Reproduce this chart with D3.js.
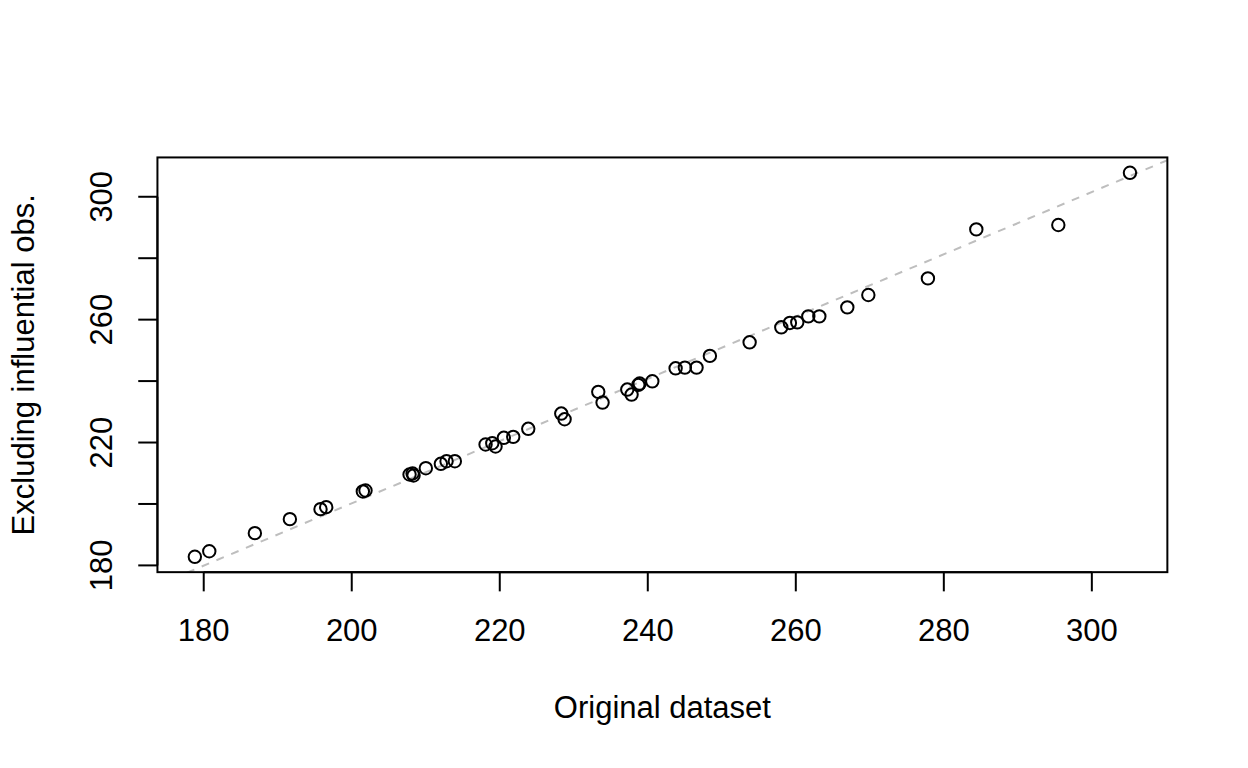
<!DOCTYPE html>
<html>
<head>
<meta charset="utf-8">
<script src="https://cdn.jsdelivr.net/npm/d3@7"></script>
<style>
  html, body { margin: 0; padding: 0; background: #ffffff; }
  svg { display: block; }
  text { font-family: "Liberation Sans", Arial, sans-serif; fill: #000; }
</style>
</head>
<body>
<svg id="chart" width="1248" height="768"></svg>
<script>
// Original dataset fitted values (x)
const original = [
  178.8, 180.75, 186.91, 191.64, 195.78, 196.55, 201.5, 201.86, 207.81, 208.22,
  208.35, 210.01, 212.04, 212.81, 213.93, 218.08, 218.99, 219.43, 220.55, 221.82,
  223.85, 228.31, 228.76, 233.31, 233.89, 237.23, 237.81, 238.72, 238.9, 240.61,
  243.76, 245.01, 246.59, 248.39, 253.76, 258.04, 259.2, 260.2, 261.69, 263.18,
  266.96, 269.8, 277.85, 284.39, 295.47, 305.15
];
// Excluding influential observations (y)
const excluded = [
  182.8, 184.6, 190.5, 195.06, 198.31, 198.96, 204.07, 204.39, 209.59, 209.92,
  209.27, 211.64, 213.07, 213.92, 213.92, 219.35, 219.77, 218.7, 221.53, 221.85,
  224.46, 229.43, 227.58, 236.49, 233.01, 237.24, 235.61, 238.77, 239.19, 239.93,
  244.16, 244.39, 244.39, 248.2, 252.62, 257.5, 258.93, 259.12, 261.07, 261.07,
  264.0, 268.03, 273.43, 289.37, 290.8, 307.8
];
// reference (fitted) line: y = intercept + slope * x
const lineIntercept = -2.5;
const lineSlope = 1.0135;
const xTicks = [180, 200, 220, 240, 260, 280, 300];
const yTicks = [180, 200, 220, 240, 260, 280, 300];
const yTickLabels = [180, 220, 260, 300];
const xTitle = "Original dataset";
const yTitle = "Excluding influential obs.";

const W = 1248, H = 768;
const lineH = 38.4;
const margin = { left: 4.1 * lineH, right: 2.1 * lineH, top: 4.1 * lineH, bottom: 5.1 * lineH };
const x0 = margin.left, x1 = W - margin.right, y0 = margin.top, y1 = H - margin.bottom;

function padded(arr) {
  const [a, b] = d3.extent(arr);
  const p = 0.04 * (b - a);
  return [a - p, b + p];
}

const x = d3.scaleLinear().domain(padded(original)).range([x0, x1]);
const y = d3.scaleLinear().domain(padded(excluded)).range([y1, y0]);

const svg = d3.select("#chart");
svg.append("rect").attr("width", W).attr("height", H).attr("fill", "#fff");

svg.append("defs").append("clipPath").attr("id", "plotclip")
  .append("rect").attr("x", x0).attr("y", y0).attr("width", x1 - x0).attr("height", y1 - y0);

// reference line
const xd = x.domain();
const fy = v => lineIntercept + lineSlope * v;
svg.append("line")
  .attr("clip-path", "url(#plotclip)")
  .attr("x1", x(xd[0])).attr("y1", y(fy(xd[0])))
  .attr("x2", x(xd[1])).attr("y2", y(fy(xd[1])))
  .attr("stroke", "#bebebe").attr("stroke-width", 2)
  .attr("stroke-dasharray", "8,8");

// points
svg.append("g").selectAll("circle")
  .data(original.map((v, i) => [v, excluded[i]]))
  .join("circle")
  .attr("cx", d => x(d[0])).attr("cy", d => y(d[1]))
  .attr("r", 6.2)
  .attr("fill", "none").attr("stroke", "#000").attr("stroke-width", 2);

// box
svg.append("rect")
  .attr("x", x0).attr("y", y0).attr("width", x1 - x0).attr("height", y1 - y0)
  .attr("fill", "none").attr("stroke", "#000").attr("stroke-width", 2);

const tickLen = 19.2;
const fs = 31;

// x axis
const gx = svg.append("g");
gx.append("line")
  .attr("x1", x(xTicks[0])).attr("x2", x(xTicks[xTicks.length - 1]))
  .attr("y1", y1).attr("y2", y1).attr("stroke", "#000").attr("stroke-width", 2);
gx.selectAll("line.tick").data(xTicks).join("line").attr("class", "tick")
  .attr("x1", d => x(d)).attr("x2", d => x(d))
  .attr("y1", y1).attr("y2", y1 + tickLen)
  .attr("stroke", "#000").attr("stroke-width", 2);
gx.selectAll("text").data(xTicks).join("text")
  .attr("x", d => x(d)).attr("y", 641)
  .attr("text-anchor", "middle").attr("font-size", fs)
  .text(d => d);

// y axis
const gy = svg.append("g");
gy.append("line")
  .attr("x1", x0).attr("x2", x0)
  .attr("y1", y(yTicks[0])).attr("y2", y(yTicks[yTicks.length - 1]))
  .attr("stroke", "#000").attr("stroke-width", 2);
gy.selectAll("line.tick").data(yTicks).join("line").attr("class", "tick")
  .attr("x1", x0).attr("x2", x0 - tickLen)
  .attr("y1", d => y(d)).attr("y2", d => y(d))
  .attr("stroke", "#000").attr("stroke-width", 2);
gy.selectAll("text").data(yTickLabels).join("text")
  .attr("transform", d => `translate(111.7,${y(d)}) rotate(-90)`)
  .attr("text-anchor", "middle").attr("font-size", fs)
  .text(d => d);

// titles
svg.append("text")
  .attr("x", (x0 + x1) / 2).attr("y", 718.3)
  .attr("text-anchor", "middle").attr("font-size", fs)
  .text(xTitle);
svg.append("text")
  .attr("transform", `translate(34.3,${(y0 + y1) / 2}) rotate(-90)`)
  .attr("text-anchor", "middle").attr("font-size", fs)
  .text(yTitle);
</script>
</body>
</html>
